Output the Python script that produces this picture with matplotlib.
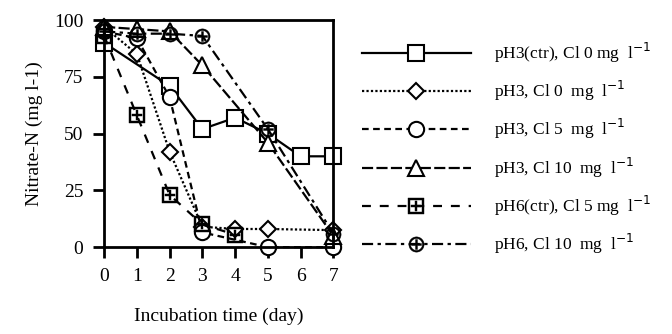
import matplotlib
matplotlib.use("Agg")
import matplotlib.pyplot as plt

plt.rcParams["font.family"] = ["Liberation Serif", "DejaVu Serif"]

# data
days_sq = [0, 2, 3, 4, 5, 6, 7]
ph3_ctr = [90, 71, 52, 57, 50, 40, 40]
days_di = [0, 1, 2, 3, 4, 5, 7]
ph3_cl0 = [97, 85, 42, 9, 8, 8, 7.5]
days_ci = [0, 1, 2, 3, 5, 7]
ph3_cl5 = [95, 92, 66, 6.5, 0, 0]
days_tr = [0, 1, 2, 3, 5, 7]
ph3_cl10 = [97, 96, 95, 80, 46, 5]
days_sp = [0, 1, 2, 3, 4]
ph6_ctr = [93, 58, 23, 10, 5.5]
days_dp = [0, 1, 2, 3, 5, 7]
ph6_cl10 = [95, 94, 94, 93, 52, 6]

labels = ["pH3(ctr), Cl 0 mg  l$^{-1}$",
          "pH3, Cl 0  mg  l$^{-1}$",
          "pH3, Cl 5  mg  l$^{-1}$",
          "pH3, Cl 10  mg  l$^{-1}$",
          "pH6(ctr), Cl 5 mg  l$^{-1}$",
          "pH6, Cl 10  mg  l$^{-1}$"]

fig = plt.figure(figsize=(6.72, 3.34), dpi=100)
ax = fig.add_axes([0.155, 0.26, 0.341, 0.68])

kw = dict(color="black", mfc="white", mec="black", mew=1.5, clip_on=False, lw=1.6)
ax.plot(days_sq, ph3_ctr, "s-", ms=12, label=labels[0], **kw)
ax.plot(days_di, ph3_cl0, "D", ls=(0, (1, 1)), ms=8, label=labels[1], **kw)
ax.plot(days_ci, ph3_cl5, "o", ls=(0, (3, 2)), ms=11, label=labels[2], **kw)
ax.plot(days_tr, ph3_cl10, "^", ls=(0, (5, 1.5)), ms=12, label=labels[3], **kw)
ax.plot(days_sp, ph6_ctr, marker="$\u229e$", ls=(0, (4, 4)), ms=12,
        color="black", mfc="black", mec="black", mew=0.3, clip_on=False, lw=1.6,
        label=labels[4])
ax.plot(days_dp, ph6_cl10, marker="$\u2295$", ls=(0, (5, 2, 1.5, 2)), ms=11,
        color="black", mfc="black", mec="black", mew=0.3, clip_on=False, lw=1.6,
        label=labels[5])

ax.set_xlim(0, 7)
ax.set_ylim(0, 100)
ax.set_xticks(range(8))
ax.set_yticks([0, 25, 50, 75, 100])
for s in ax.spines.values():
    s.set_linewidth(2)
ax.tick_params(direction="out", length=8, width=2, labelsize=14, pad=7)
ax.set_xlabel("Incubation time (day)", fontsize=14, labelpad=16)
ax.set_ylabel("Nitrate-N (mg l-1)", fontsize=14, labelpad=8)

fig.legend(loc="upper left", bbox_to_anchor=(0.515, 0.925), frameon=False,
           handlelength=6.3, handletextpad=1.3, labelspacing=0.82, fontsize=12.5)

fig.savefig("out.png", dpi=100)
